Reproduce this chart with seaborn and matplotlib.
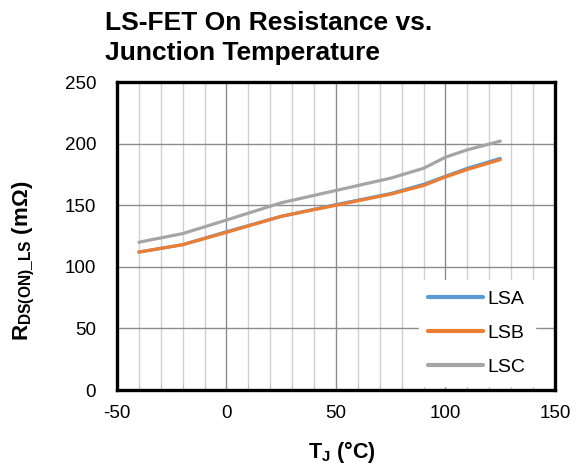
import matplotlib
matplotlib.use("Agg")
import matplotlib.pyplot as plt
import seaborn as sns
import pandas as pd
from matplotlib.ticker import MultipleLocator

temps = [-40, -20, 0, 25, 50, 75, 90, 100, 110, 125]
lsa = [112, 118, 128.5, 141, 150.5, 159.5, 167, 173.5, 180, 188]
lsb = [112, 118, 128, 141, 150, 159, 166, 173, 179, 187]
lsc = [120, 127, 138, 152, 162, 172, 180, 189, 195, 202]
series_names = ["LSA", "LSB", "LSC"]
colors = ["#5B9BD5", "#ED7D31", "#A5A5A5"]
x_ticks = [-50, 0, 50, 100, 150]
y_ticks = [0, 50, 100, 150, 200, 250]

rows = []
for name, vals in zip(series_names, [lsa, lsb, lsc]):
    for t, v in zip(temps, vals):
        rows.append({"T": t, "R": v, "Series": name})
df = pd.DataFrame(rows)

sns.set_style("white")
plt.rcParams["font.family"] = ["Liberation Sans", "DejaVu Sans"]
plt.rcParams["mathtext.fontset"] = "custom"
plt.rcParams["mathtext.rm"] = "Liberation Sans"
plt.rcParams["mathtext.bf"] = "Liberation Sans:bold"
plt.rcParams["axes.unicode_minus"] = False
plt.rcParams["text.color"] = "black"
plt.rcParams["axes.labelcolor"] = "black"
plt.rcParams["xtick.color"] = "black"
plt.rcParams["ytick.color"] = "black"

fig = plt.figure(figsize=(5.82, 4.70), dpi=100)
ax = fig.add_axes([0.201, 0.170, 0.7526, 0.6555])

sns.lineplot(data=df, x="T", y="R", hue="Series", palette=colors,
             linewidth=2.3, ax=ax, legend=True, zorder=3)

ax.set_xlim(-50, 150)
ax.set_ylim(0, 250)
ax.set_xticks(x_ticks)
ax.set_yticks(y_ticks)
ax.set_xticklabels([str(v) for v in x_ticks])
ax.set_yticklabels([str(v) for v in y_ticks])
ax.xaxis.set_minor_locator(MultipleLocator(10))
ax.grid(True, which="major", color="#8C8C8C", linewidth=1.0, zorder=0)
ax.grid(True, which="minor", axis="x", color="#D0D0D0", linewidth=1.0, zorder=0)
ax.grid(False, which="minor", axis="y")
ax.set_axisbelow(True)
ax.tick_params(axis="both", which="major", labelsize=13.5, length=0, labelcolor="black")
ax.tick_params(axis="x", which="major", pad=11)
ax.tick_params(axis="y", which="major", pad=15)
ax.tick_params(axis="x", which="minor", direction="in", length=4, color="#BFBFBF", bottom=True)
for s in ax.spines.values():
    s.set_visible(True)
    s.set_color("black")
    s.set_linewidth(2.4)

ax.set_xlabel(r"$\mathbf{T_J}$ (°C)", fontsize=15.5, fontweight="bold", color="black")
ax.xaxis.set_label_coords(0.513, -0.16)
ax.xaxis.label.set_va("top")
ax.set_ylabel(r"$\mathbf{R_{DS(ON)\_LS}}$ (mΩ)", fontsize=16, fontweight="bold", color="black")
ax.yaxis.set_label_coords(-0.183, 0.42)

leg = ax.legend(loc="upper left", bbox_to_anchor=(0.689, 0.356), frameon=True,
                fontsize=14, handlelength=2.8, handletextpad=0.25,
                labelspacing=0.85, borderaxespad=0.0, fancybox=False, borderpad=0.5)
leg.get_frame().set_facecolor("white")
leg.get_frame().set_edgecolor("white")
leg.get_frame().set_alpha(1.0)
for text in leg.get_texts():
    text.set_color("black")
for line in leg.get_lines():
    line.set_linewidth(3.0)
    line.set_solid_capstyle("round")

fig.text(0.18, 0.976, "LS-FET On Resistance vs.\nJunction Temperature",
         ha="left", va="top", fontsize=19, fontweight="bold", linespacing=1.3,
         color="black")

fig.savefig("out.png", dpi=100)
